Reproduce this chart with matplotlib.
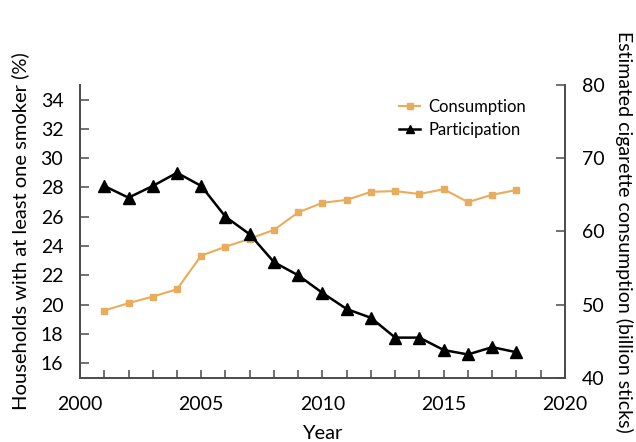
import matplotlib
matplotlib.use("Agg")
import matplotlib.pyplot as plt
from matplotlib.ticker import MultipleLocator, FuncFormatter

plt.rcParams['font.family'] = ['Lato', 'DejaVu Sans']

years = list(range(2001, 2019))
participation = [28.1, 27.3, 28.1, 29.0, 28.1, 26.0, 24.8, 22.9, 22.0, 20.8,
                 19.7, 19.1, 17.75, 17.75, 16.9, 16.6, 17.1, 16.75]
consumption = [49.2, 50.2, 51.1, 52.1, 56.7, 57.9, 59.0, 60.2, 62.6, 63.9,
               64.3, 65.4, 65.5, 65.1, 65.75, 64.0, 65.0, 65.65]

orange = '#e8ad5c'
spine_col = '#4a4a4a'
fs = 14

fig = plt.figure(figsize=(6.36, 4.42), dpi=100)
ax = fig.add_axes([0.1258, 0.145, 0.7625, 0.663])
ax2 = ax.twinx()

l1, = ax2.plot(years, consumption, color=orange, lw=1.5, marker='s', ms=5,
               label='Consumption')
l2, = ax.plot(years, participation, color='black', lw=1.8, marker='^', ms=8,
              label='Participation')
ax.set_zorder(ax2.get_zorder() + 1)
ax.patch.set_visible(False)

ax.set_xlim(2000, 2020)
ax.set_ylim(15, 35)
ax2.set_ylim(40, 80)

ax.xaxis.set_major_locator(MultipleLocator(1))
ax.xaxis.set_major_formatter(FuncFormatter(lambda v, p: f'{int(v)}' if int(round(v)) % 5 == 0 else ''))
ax.set_yticks(range(16, 35, 2))
ax2.set_yticks(range(40, 81, 10))

for a in (ax, ax2):
    a.spines['top'].set_visible(False)
    for s in ('left', 'right', 'bottom'):
        a.spines[s].set_color(spine_col)
        a.spines[s].set_linewidth(1.2)
    a.tick_params(direction='in', length=6.5, width=1.1, color=spine_col,
                  labelsize=fs, pad=12)
ax.tick_params(axis='x', length=5.5, pad=13)

ax.set_xlabel('Year', fontsize=fs + 0.5, labelpad=9)
ax.set_ylabel('Households with at least one smoker (%)', fontsize=fs + 0.5, labelpad=8)
ax2.set_ylabel('Estimated cigarette consumption (billion sticks)', fontsize=fs,
               rotation=270, va='bottom', labelpad=8)

ax.legend([l1, l2], ['Consumption', 'Participation'], loc='upper left',
          bbox_to_anchor=(0.64, 0.98), frameon=False, fontsize=fs - 2,
          handlelength=1.3, handletextpad=0.5, labelspacing=0.4,
          borderpad=0, markerscale=0.75)

fig.savefig('out.png', dpi=100)
